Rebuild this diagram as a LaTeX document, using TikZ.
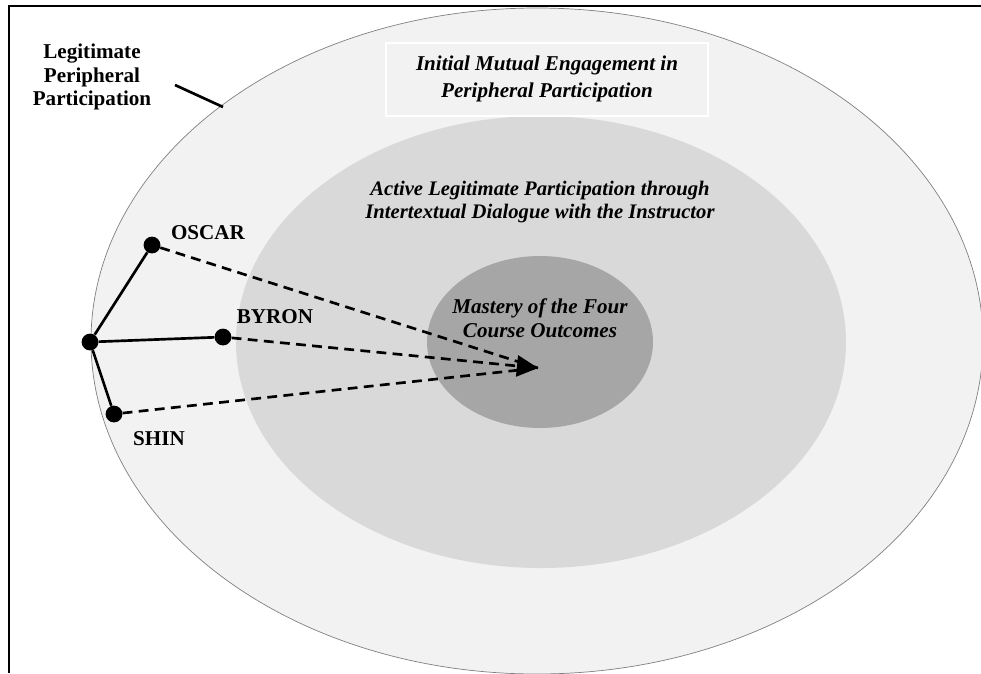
\documentclass[tikz,border=0pt]{standalone}
\usepackage{fontspec}
\setmainfont{Liberation Serif}
\usetikzlibrary{arrows.meta}
\definecolor{ringout}{HTML}{F2F2F2}
\definecolor{ringmid}{HTML}{D9D9D9}
\definecolor{ringin}{HTML}{A6A6A6}
\tikzset{
  person/.style={circle,fill=black,inner sep=0pt,minimum size=0.42cm},
  who/.style={font=\fontsize{15}{17}\selectfont\bfseries},
  phase/.style={font=\fontsize{15}{17}\selectfont\bfseries\itshape,align=center},
  tie/.style={line width=1.9pt},
  toward/.style={line width=1.9pt,dash pattern=on 7pt off 4.5pt}
}

\begin{document}
\begin{tikzpicture}[x=0.025cm,y=-0.025cm]
  \useasboundingbox (0,0) rectangle (981,673);
  \draw[line width=1.4pt] (9,673) -- (9,6) -- (981,6);
  \draw[gray,fill=ringout,line width=0.5pt] (537,341) ellipse [x radius=446,y radius=333];
  \fill[ringmid] (541,342) ellipse [x radius=305,y radius=226];
  \fill[ringin] (540,342) ellipse [x radius=113,y radius=86];
  \draw[white,line width=1pt] (386,43) rectangle (708,116);
  \node[phase,font=\fontsize{15}{19}\selectfont\bfseries\itshape] (initial) at (547,79)
    {Initial Mutual Engagement in\\Peripheral Participation};
  \node[phase,font=\fontsize{14.7}{17}\selectfont\bfseries\itshape] (active) at (540,202)
    {Active Legitimate Participation through\\Intertextual Dialogue with the Instructor};
  \node[phase] (mastery) at (540,318) {Mastery of the Four\\Course Outcomes};
  \node[who,align=center] (lpp) at (92,77) {Legitimate\\Peripheral\\Participation};
  \coordinate (lppend) at (223,107);
  \draw[tie] (175,85) -- (lppend);

  \node[person] (hub) at (90,342) {};
  \node[person] (oscar) at (152,245) {};
  \node[person] (byron) at (223,337) {};
  \node[person] (shin) at (114,414) {};
  \node[who] (oscarlbl) at (208,233) {OSCAR};
  \node[who] (byronlbl) at (275,317) {BYRON};
  \node[who] (shinlbl) at (159,439) {SHIN};
  \coordinate (goal) at (538,368);

  \draw[tie] (hub) -- (oscar);
  \draw[tie] (hub) -- (byron);
  \draw[tie] (hub) -- (shin);
  \draw[toward] (oscar) -- (goal);
  \draw[toward] (shin) -- (goal);
  \draw[toward,-{Triangle[length=15pt,width=15pt]}] (byron) -- (goal);
\end{tikzpicture}
\end{document}
